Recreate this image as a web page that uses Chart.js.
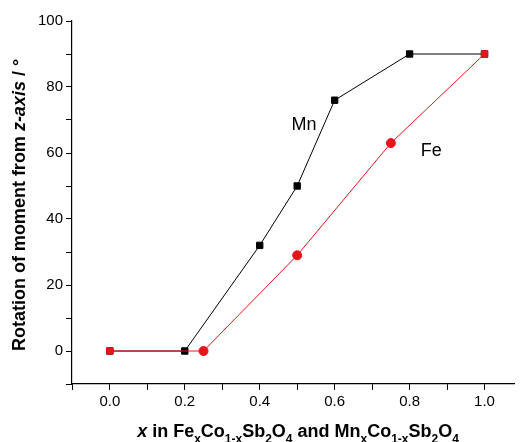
<!DOCTYPE html>
<html>
<head>
<script src="https://cdn.jsdelivr.net/npm/chart.js@4"></script>
<style>body{margin:0;background:#fff}#wrap{width:520px;height:442px}</style>
</head>
<body>
<div id="wrap"><canvas id="c"></canvas></div>
<script>
// Données
const mnX = [0.0, 0.2, 0.4, 0.5, 0.6, 0.8, 1.0];
const mnY = [0, 0, 32, 50, 76, 90, 90];
const feX = [0.0, 0.25, 0.5, 0.75, 1.0];
const feY = [0, 0, 29, 63, 90];
const xTicks = [0.0, 0.2, 0.4, 0.6, 0.8, 1.0];
const yTicks = [0, 20, 40, 60, 80, 100];

const pts = (xs, ys) => xs.map((x, i) => ({x: x, y: ys[i]}));
const font = 'Arial, "Liberation Sans", sans-serif';

// Textes : titres des axes et étiquettes des séries
const annot = {
  id: 'annot',
  afterDraw(chart) {
    const {ctx, scales: {x, y}} = chart;
    ctx.save();
    ctx.fillStyle = '#000';
    ctx.font = '18px ' + font;
    ctx.fillText('Mn', x.getPixelForValue(0.485), y.getPixelForValue(67));
    ctx.fillText('Fe', x.getPixelForValue(0.83), y.getPixelForValue(59));
    // titre Y
    ctx.translate(25, 205);
    ctx.rotate(-Math.PI / 2);
    const F = 'bold 18px ' + font, FI = 'bold italic 18px ' + font;
    const a = 'Rotation of moment from ', b = 'z-axis', c = ' / °';
    ctx.font = F; const wa = ctx.measureText(a).width, wc = ctx.measureText(c).width;
    ctx.font = FI; const wb = ctx.measureText(b).width;
    let s = -(wa + wb + wc) / 2;
    ctx.font = F; ctx.fillText(a, s, 0);
    ctx.font = FI; ctx.fillText(b, s + wa, 0);
    ctx.font = F; ctx.fillText(c, s + wa + wb, 0);
    ctx.restore();
    // titre X avec indices
    ctx.save();
    const parts = [['x', 0, 'bi'], [' in Fe', 0, 'b'], ['x', 1, 'b'], ['Co', 0, 'b'], ['1-x', 1, 'b'], ['Sb', 0, 'b'], ['2', 1, 'b'], ['O', 0, 'b'], ['4', 1, 'b'],
      [' and Mn', 0, 'b'], ['x', 1, 'b'], ['Co', 0, 'b'], ['1-x', 1, 'b'], ['Sb', 0, 'b'], ['2', 1, 'b'], ['O', 0, 'b'], ['4', 1, 'b']];
    const setF = p => { ctx.font = (p[2] === 'bi' ? 'bold italic ' : 'bold ') + (p[1] ? '12px ' : '18px ') + font; };
    let tot = 0;
    parts.forEach(p => { setF(p); tot += ctx.measureText(p[0]).width; });
    let px = 298 - tot / 2;
    parts.forEach(p => {
      setF(p);
      ctx.fillText(p[0], px, p[1] ? 443 : 437);
      px += ctx.measureText(p[0]).width;
    });
    ctx.restore();
  }
};

new Chart(document.getElementById('c'), {
  type: 'scatter',
  data: {
    datasets: [
      {
        label: 'Fe', data: pts(feX, feY), showLine: true,
        borderColor: '#e8141c', backgroundColor: '#e8141c', borderWidth: 1,
        pointStyle: feX.map(v => (v === 0 || v === 1) ? 'rect' : 'circle'),
        pointRadius: 4.5
      },
      {
        label: 'Mn', data: pts(mnX, mnY), showLine: true,
        borderColor: '#000', backgroundColor: '#000', borderWidth: 1,
        pointStyle: 'rect', pointRadius: 4.5
      }
    ]
  },
  options: {
    responsive: true, maintainAspectRatio: false, animation: false,
    layout: {padding: {top: 21, right: 0, bottom: 0, left: 0}},
    plugins: {legend: {display: false}, tooltip: {enabled: false}},
    scales: {
      x: {
        type: 'linear', min: -0.101, max: 1.08,
        afterBuildTicks: s => { s.ticks = []; for (let i = -1; i <= 10; i++) s.ticks.push({value: i / 10}); },
        afterFit: s => { s.height = 58; },
        border: {display: true, color: '#000', width: 1.2},
        grid: {drawOnChartArea: false, color: '#000', tickLength: 6},
        ticks: {
          color: '#000', font: {size: 15, family: font},
          callback: v => xTicks.some(t => Math.abs(t - v) < 1e-6) ? v.toFixed(1) : ''
        }
      },
      y: {
        min: -10, max: 100,
        afterBuildTicks: s => { s.ticks = []; for (let v = -10; v <= 100; v += 10) s.ticks.push({value: v}); },
        afterFit: s => { s.width = 72; },
        border: {display: true, color: '#000', width: 1.2},
        grid: {drawOnChartArea: false, color: '#000', tickLength: 6},
        ticks: {
          color: '#000', font: {size: 15, family: font},
          callback: v => yTicks.includes(v) ? String(v) : ''
        }
      }
    }
  },
  plugins: [annot]
});
</script>
</body>
</html>
